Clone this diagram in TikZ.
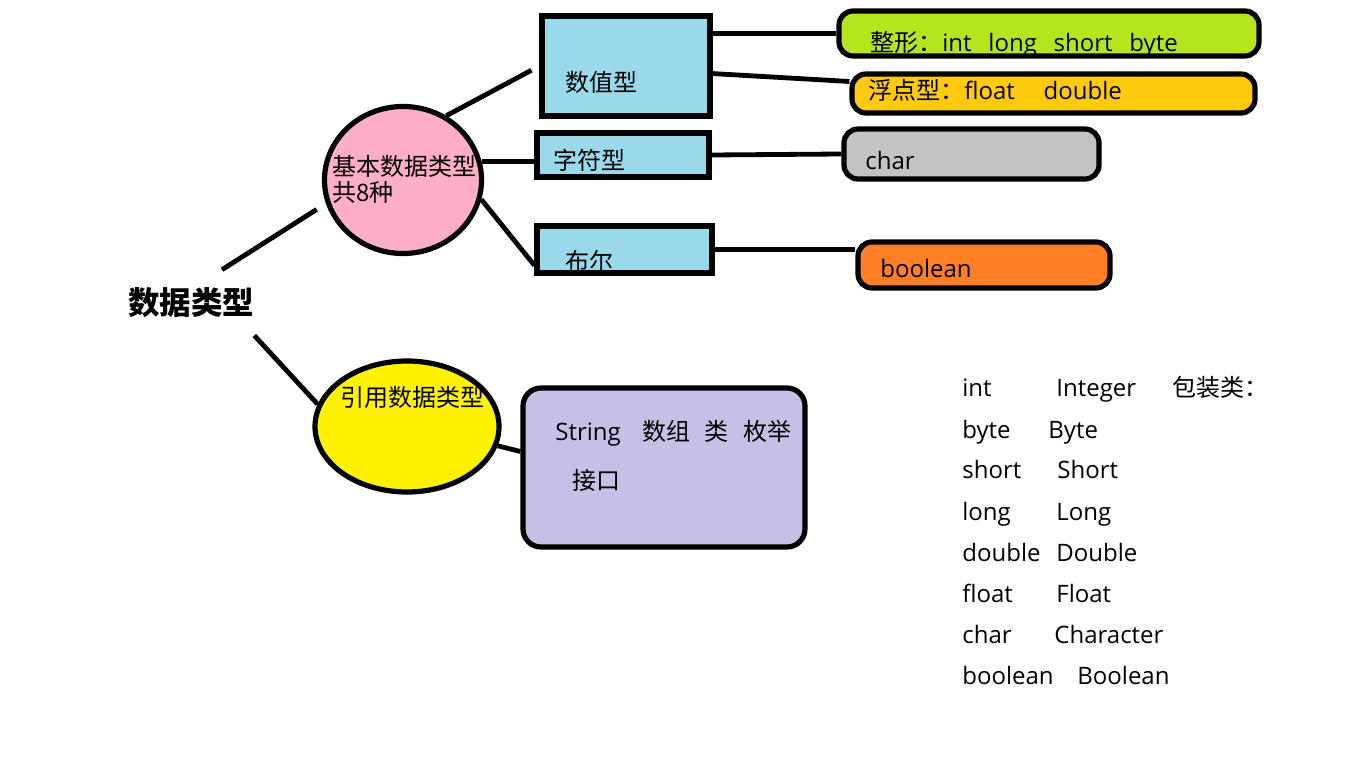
\documentclass[tikz,border=0pt]{standalone}
\usepackage{fontspec}
\setmainfont{Open Sans}
\newfontfamily\cjk{Noto Sans CJK SC}
\usetikzlibrary{shapes.geometric}
\definecolor{basicfill}{RGB}{255,174,201}
\definecolor{reffill}{RGB}{255,242,0}
\definecolor{typefill}{RGB}{153,217,234}
\definecolor{intfill}{RGB}{181,230,29}
\definecolor{floatfill}{RGB}{255,201,14}
\definecolor{charfill}{RGB}{195,195,195}
\definecolor{boolfill}{RGB}{255,127,39}
\definecolor{strfill}{RGB}{200,191,231}
\tikzset{
    bubble/.style={
        ellipse,
        draw=black,
        line width=2.6pt,
        inner sep=0pt
    },
    typebox/.style={
        rectangle,
        draw=black,
        line width=2.6pt,
        fill=typefill,
        inner sep=0pt
    },
    valbox/.style={
        rectangle,
        rounded corners=7pt,
        draw=black,
        line width=2.6pt,
        inner sep=0pt
    },
    txt/.style={
        anchor=west,
        inner sep=0pt,
        text height=0.9em,
        text depth=0.1em,
        font=\fontsize{12pt}{13pt}\selectfont
    },
    link/.style={
        draw=black,
        line width=2.4pt
    }
}
\begin{document}
\begin{tikzpicture}[x=0.5pt, y=-0.5pt]
\useasboundingbox (0,0) rectangle (1360,780);

% Root
\node[inner sep=3pt, font=\cjk\bfseries\fontsize{15.75pt}{18pt}\selectfont] (title) at (191,303) {数据类型};

% Basic types
\node[bubble, fill=basicfill, minimum width=78.5pt, minimum height=73.5pt] (basic) at (403,180) {};
\node[anchor=west, inner sep=0pt, align=left, font=\cjk\fontsize{12pt}{13pt}\selectfont] (basictxt) at (332,179) {基本数据类型\\共8种};

\node[typebox, minimum width=84pt, minimum height=50pt] (numbox) at (626,66) {};
\node[txt] (numtxt) at (565,84) {\cjk 数值型};
\node[typebox, minimum width=86pt, minimum height=22pt] (charbox) at (623,155) {};
\node[txt] (chartxt) at (553,162) {\cjk 字符型};
\node[typebox, minimum width=87.5pt, minimum height=23.5pt] (boolbox) at (624.5,249.5) {};
\node[txt] (booltxt) at (565,263) {\cjk 布尔};

% Values
\node[valbox, fill=intfill, minimum width=210pt, minimum height=22.5pt] (intbox) at (1049,33.5) {};
\node[txt] (inttxt) at (870,44) {{\cjk 整形：}int\hspace{0.7em}long\hspace{0.7em}short\hspace{0.7em}byte};
\node[valbox, fill=floatfill, minimum width=201.5pt, minimum height=19.5pt] (floatbox) at (1053.5,93.5) {};
\node[txt] (floattxt) at (868,92) {{\cjk 浮点型：}float\hspace{1.2em}double};
\node[valbox, fill=charfill, minimum width=127.5pt, minimum height=25pt] (charval) at (971.5,154) {};
\node[txt] (charvaltxt) at (865,162) {char};
\node[valbox, fill=boolfill, minimum width=126pt, minimum height=23pt] (boolval) at (984,265) {};
\node[txt] (boolvaltxt) at (880,270) {boolean};

% Reference types
\node[bubble, fill=reffill, minimum width=92pt, minimum height=65.5pt] (ref) at (407,426.5) {};
\node[txt] (reftxt) at (340,399) {\cjk 引用数据类型};
\node[valbox, rounded corners=9pt, fill=strfill, minimum width=141pt, minimum height=79.5pt] (strbox) at (664,467.5) {};
\node[txt] (strtxt) at (555,433) {String\hspace{0.9em}{\cjk 数组}\hspace{0.6em}{\cjk 类}\hspace{0.6em}{\cjk 枚举}};
\node[txt] (ifacetxt) at (572,481) {\cjk 接口};

% Wrapper list
\foreach \prim/\wrap/\wx [count=\i] in {int/Integer/1056, byte/Byte/1048, short/Short/1057, long/Long/1056, double/Double/1056, float/Float/1056, char/Character/1054, boolean/Boolean/1077} {
    \node[txt] (prim\i) at (962,348+41*\i) {\prim};
    \node[txt] (wrap\i) at (\wx,348+41*\i) {\wrap};
}
\node[txt] (wraplabel) at (1172,389) {\cjk 包装类：};

% Connections
\draw[link, shorten <=11pt, shorten >=5.5pt] (title.60) -- (basic.197);
\draw[link, shorten <=7.5pt] (title.-22) -- (ref.166);
\draw[link, shorten >=4.5pt] (basic.56) -- (numbox.west);
\draw[link] (basic.13) -- (basic.13 -| charbox.west);
\draw[link] (basic.-14) -- (boolbox.190);
\draw[link] (numbox.east |- intbox.west) -- (intbox.west);
\draw[link] (numbox.-5) -- ([yshift=6pt]floatbox.west);
\draw[link] (charbox.east) -- (charval.west);
\draw[link] (boolbox.east) -- (boolbox.east -| boolval.west);
\draw[link] (ref.-12) -- ([yshift=8pt]strbox.west);

\end{tikzpicture}
\end{document}
